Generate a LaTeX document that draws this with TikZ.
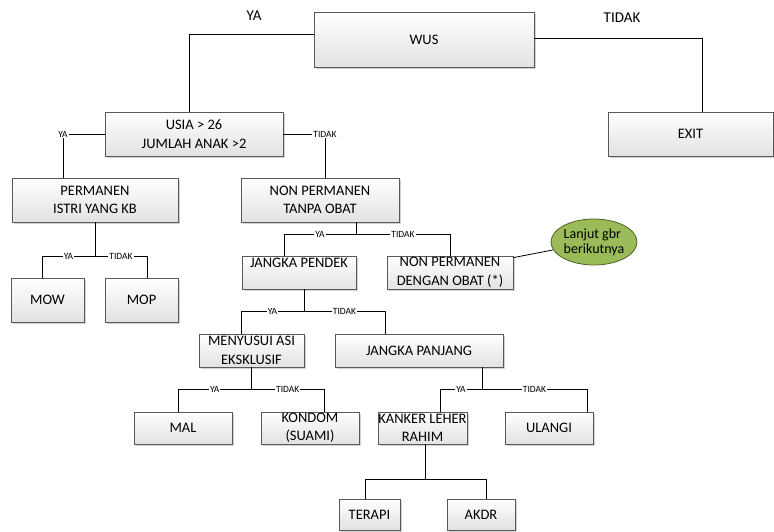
\documentclass[tikz,border=0pt]{standalone}
\usepackage{fontspec}
\setmainfont{Carlito}
\usetikzlibrary{shapes.geometric,shadows}
\definecolor{boxline}{HTML}{595959}
\definecolor{boxshade}{HTML}{E2E2E2}
\definecolor{notefill}{HTML}{9BBB59}
\definecolor{noteline}{HTML}{4F6228}

\begin{document}
\begin{tikzpicture}[x=1pt,y=-1pt,line width=0.8pt,
		base node/.style={rectangle,draw=boxline,top color=white,bottom color=boxshade,
			drop shadow={shadow xshift=1.5pt,shadow yshift=-1.5pt,fill=black!35},
			align=center,inner sep=0pt,font=\fontsize{14.5}{18.5}\selectfont},
		note node/.style={ellipse,draw=noteline,fill=notefill,align=left,inner sep=0pt,
			font=\fontsize{14}{15}\selectfont},
		tag node/.style={fill=white,inner sep=1pt,font=\fontsize{9.5}{10}\selectfont},
		head node/.style={font=\fontsize{15}{18}\selectfont}]
		\useasboundingbox (0,0) rectangle (774,531);
		
		% wus
		\node[base node,minimum width=220pt,minimum height=55pt] (wus) at (424,39.5) {WUS};
		\node[base node,minimum width=165pt,minimum height=44pt] (exit) at (690.5,134) {EXIT};
		\node[base node,minimum width=178pt,minimum height=44pt] (usia) at (194,134) {USIA > 26\\JUMLAH ANAK >2};
		\node[head node] (ya0) at (254,16) {YA};
		\node[head node] (tidak0) at (622,18) {TIDAK};
		\draw ([yshift=5.5pt]wus.west) -| ([xshift=-5pt]usia.north);
		\draw ([yshift=1.5pt]wus.east) -| ([xshift=11.5pt]exit.north);
		
		% usia
		\node[base node,minimum width=166pt,minimum height=44pt] (perm) at (95,200) {PERMANEN\\ISTRI YANG KB};
		\node[base node,minimum width=158pt,minimum height=44pt] (tanpa) at (320,200) {NON PERMANEN\\TANPA OBAT};
		\draw (usia.west) -| node[tag node,pos=0.5] (t1) {YA} ([xshift=-32pt]perm.north);
		\draw (usia.east) -| node[tag node,pos=0.5] (t2) {TIDAK} ([xshift=5pt]tanpa.north);
		
		% permanen
		\node[base node,minimum width=73pt,minimum height=44pt] (mow) at (47.5,300) {MOW};
		\node[base node,minimum width=73pt,minimum height=44pt] (mop) at (141.5,300) {MOP};
		\draw (perm.south) -- ++(0,34) coordinate (j1);
		\draw (j1) -| node[tag node,pos=0.25] (t3) {YA} ([xshift=-5.5pt]mow.north);
		\draw (j1) -| node[tag node,pos=0.25] (t4) {TIDAK} ([xshift=5.5pt]mop.north);
		
		% tanpa obat
		\node[base node,minimum width=114pt,minimum height=33pt] (pendek) at (299,272.5) {JANGKA PENDEK\\\mbox{}};
		\node[base node,minimum width=126pt,minimum height=33pt] (dengan) at (450,272.5) {NON PERMANEN\\DENGAN OBAT (*)};
		\node[note node,minimum width=86pt,minimum height=46pt] (lanjut) at (594,242) {Lanjut gbr\\berikutnya};
		\draw ([xshift=36pt]tanpa.south) -- ++(0,12) coordinate (j2);
		\draw (j2) -| node[tag node,pos=0.25] (t5) {YA} ([xshift=-15pt]pendek.north);
		\draw (j2) -| node[tag node,pos=0.25] (t6) {TIDAK} (dengan.north);
		\draw ([yshift=-2pt]dengan.north east) -- (lanjut);
		
		% jangka pendek
		\node[base node,minimum width=105pt,minimum height=33pt] (asi) at (251.5,350.5) {MENYUSUI ASI\\EKSKLUSIF};
		\node[base node,minimum width=168pt,minimum height=33pt] (panjang) at (419,350.5) {JANGKA PANJANG};
		\draw ([xshift=5pt]pendek.south) -- ++(0,22) coordinate (j3);
		\draw (j3) -| node[tag node,pos=0.25] (t7) {YA} ([xshift=-10.5pt]asi.north);
		\draw (j3) -| node[tag node,pos=0.25] (t8) {TIDAK} ([xshift=-34pt]panjang.north);
		
		% menyusui
		\node[base node,minimum width=98pt,minimum height=32pt] (mal) at (183,428) {MAL};
		\node[base node,minimum width=98pt,minimum height=32pt] (kondom) at (310,428) {KONDOM\\(SUAMI)};
		\draw (asi.south) -- ++(0,22) coordinate (j4);
		\draw (j4) -| node[tag node,pos=0.25] (t9) {YA} ([xshift=-5pt]mal.north);
		\draw (j4) -| node[tag node,pos=0.25] (t10) {TIDAK} ([xshift=14pt]kondom.north);
		
		% jangka panjang
		\node[base node,minimum width=89pt,minimum height=32pt] (kanker) at (422.5,428) {KANKER LEHER\\RAHIM};
		\node[base node,minimum width=88pt,minimum height=32pt] (ulangi) at (549,428) {ULANGI};
		\draw ([xshift=63pt]panjang.south) -- ++(0,22) coordinate (j5);
		\draw (j5) -| node[tag node,pos=0.25] (t11) {YA} ([xshift=17.5pt]kanker.north);
		\draw (j5) -| node[tag node,pos=0.25] (t12) {TIDAK} ([xshift=38pt]ulangi.north);
		
		% kanker
		\node[base node,minimum width=61pt,minimum height=31pt] (terapi) at (369.5,514.5) {TERAPI};
		\node[base node,minimum width=68pt,minimum height=31pt] (akdr) at (481,514.5) {AKDR};
		\draw ([xshift=2.5pt]kanker.south) -- ++(0,35) coordinate (j6);
		\draw (j6) -| ([xshift=-4.5pt]terapi.north);
		\draw (j6) -| ([xshift=5pt]akdr.north);
\end{tikzpicture}
\end{document}
